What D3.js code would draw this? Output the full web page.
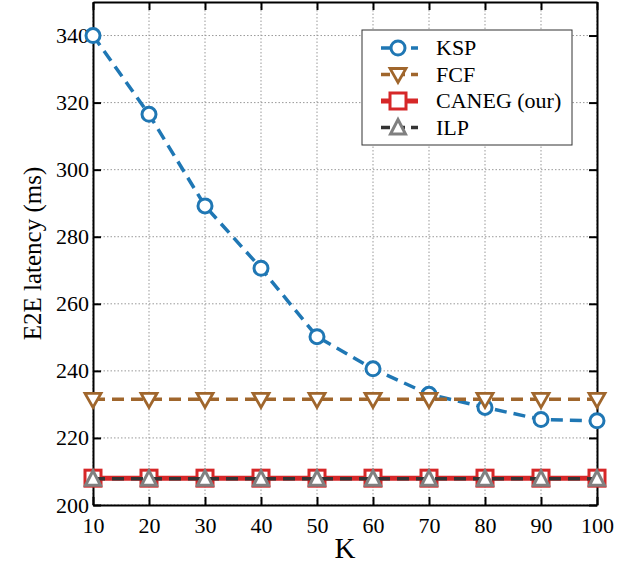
<!DOCTYPE html>
<html><head><meta charset="utf-8">
<script src="https://cdn.jsdelivr.net/npm/d3@7"></script>
<style>body{margin:0;background:#fff}svg{display:block}
text{font-family:"Liberation Serif","Times New Roman",Times,serif;fill:#000}</style>
</head><body>
<script>
const K = [10,20,30,40,50,60,70,80,90,100];
const ksp = [340,316.5,289.2,270.6,250.2,240.6,233,229.1,225.5,225.1];
const fcf = [231.5,231.5,231.5,231.5,231.5,231.5,231.5,231.5,231.5,231.5];
const caneg = [208,208,208,208,208,208,208,208,208,208];
const ilp = [207.8,207.8,207.8,207.8,207.8,207.8,207.8,207.8,207.8,207.8];
const yTicks = [200,220,240,260,280,300,320,340];
const xTicks = [10,20,30,40,50,60,70,80,90,100];

const W=636,H=569;
const m={l:93,r:39,t:2,b:64};
const svg=d3.select("body").append("svg").attr("width",W).attr("height",H);
const x=d3.scaleLinear().domain([10,100]).range([m.l,W-m.r]);
const y=d3.scaleLinear().domain([200,350]).range([H-m.b,m.t]);

// grid
const g=svg.append("g");
g.selectAll(".gx").data(xTicks).join("line").attr("x1",d=>x(d)).attr("x2",d=>x(d)).attr("y1",y(200)).attr("y2",y(350))
 .attr("stroke","#999").attr("stroke-width",1).attr("stroke-dasharray","1.5,2");
g.selectAll(".gy").data(yTicks).join("line").attr("y1",d=>y(d)).attr("y2",d=>y(d)).attr("x1",x(10)).attr("x2",x(100))
 .attr("stroke","#999").attr("stroke-width",1).attr("stroke-dasharray","1.5,2");

// axes
const ax=svg.append("g").attr("transform",`translate(0,${y(200)})`).call(d3.axisBottom(x).tickValues(xTicks).tickSizeInner(-8).tickSizeOuter(0).tickPadding(12));
const ay=svg.append("g").attr("transform",`translate(${x(10)},0)`).call(d3.axisLeft(y).tickValues(yTicks).tickSizeInner(-8).tickSizeOuter(0).tickPadding(4));
const at=svg.append("g").attr("transform",`translate(0,${y(350)})`).call(d3.axisTop(x).tickValues(xTicks).tickSizeInner(-8).tickSizeOuter(0).tickFormat(""));
const ar=svg.append("g").attr("transform",`translate(${x(100)},0)`).call(d3.axisRight(y).tickValues(yTicks).tickSizeInner(-8).tickSizeOuter(0).tickFormat(""));
[ax,ay,at,ar].forEach(a=>{a.attr("font-family",null);a.select(".domain").attr("stroke","#000").attr("stroke-width",2);
 a.selectAll(".tick line").attr("stroke","#000").attr("stroke-width",2);
 a.selectAll("text").attr("font-size",22).attr("fill","#000");});

svg.append("text").attr("x",(x(10)+x(100))/2).attr("y",H-11).attr("text-anchor","middle").attr("font-size",29).text("K");
svg.append("text").attr("transform",`translate(41,${(y(200)+y(350))/2}) rotate(-90)`).attr("text-anchor","middle").attr("font-size",25).text("E2E latency (ms)");

const series=[
 {name:"KSP",vals:ksp,color:"#1f77b4",dash:"12,7",w:3.5,marker:"circle",mcol:"#1f77b4"},
 {name:"FCF",vals:fcf,color:"#a0662c",dash:"12,7",w:3.5,marker:"tridown",mcol:"#a0662c"},
 {name:"CANEG (our)",vals:caneg,color:"#d62728",dash:null,w:5,marker:"square",mcol:"#d62728"},
 {name:"ILP",vals:ilp,color:"#333333",dash:"12,7",w:3.5,marker:"triup",mcol:"#808080"}
];
const line=d3.line().x((d,i)=>x(K[i])).y(d=>y(d));
function marker(sel,type,col){
 if(type==="circle") sel.append("circle").attr("r",7).attr("fill","#fff").attr("stroke",col).attr("stroke-width",3);
 else if(type==="square") sel.append("rect").attr("x",-8).attr("y",-8).attr("width",16).attr("height",16).attr("fill","#fff").attr("stroke",col).attr("stroke-width",3);
 else if(type==="tridown") sel.append("path").attr("d","M-8,-6L8,-6L0,8Z").attr("fill","#fff").attr("stroke",col).attr("stroke-width",2.8);
 else if(type==="triup") sel.append("path").attr("d","M-7.5,6.5L7.5,6.5L0,-8Z").attr("fill","#fff").attr("stroke",col).attr("stroke-width",3);
}
const plot=svg.append("g");
series.forEach(s=>{
 plot.append("path").datum(s.vals).attr("d",line).attr("fill","none").attr("stroke",s.color).attr("stroke-width",s.w).attr("stroke-dasharray",s.dash);
 s.vals.forEach((v,i)=>{const gm=plot.append("g").attr("transform",`translate(${x(K[i])},${y(v)})`);marker(gm,s.marker,s.mcol);});
});

// legend
const lg=svg.append("g");
lg.append("rect").attr("x",362).attr("y",30).attr("width",210).attr("height",115).attr("fill","#fff").attr("stroke","#333").attr("stroke-width",1);
series.forEach((s,i)=>{
 const yy=48+i*26.5;
 lg.append("line").attr("x1",381).attr("x2",418).attr("y1",yy).attr("y2",yy).attr("stroke",s.color).attr("stroke-width",s.w).attr("stroke-dasharray",s.dash?"9,6":null);
 const gm=lg.append("g").attr("transform",`translate(398,${yy})`);marker(gm,s.marker,s.mcol);
 lg.append("text").attr("x",436).attr("y",yy+7).attr("font-size",22).text(s.name);
});
</script>
</body></html>
